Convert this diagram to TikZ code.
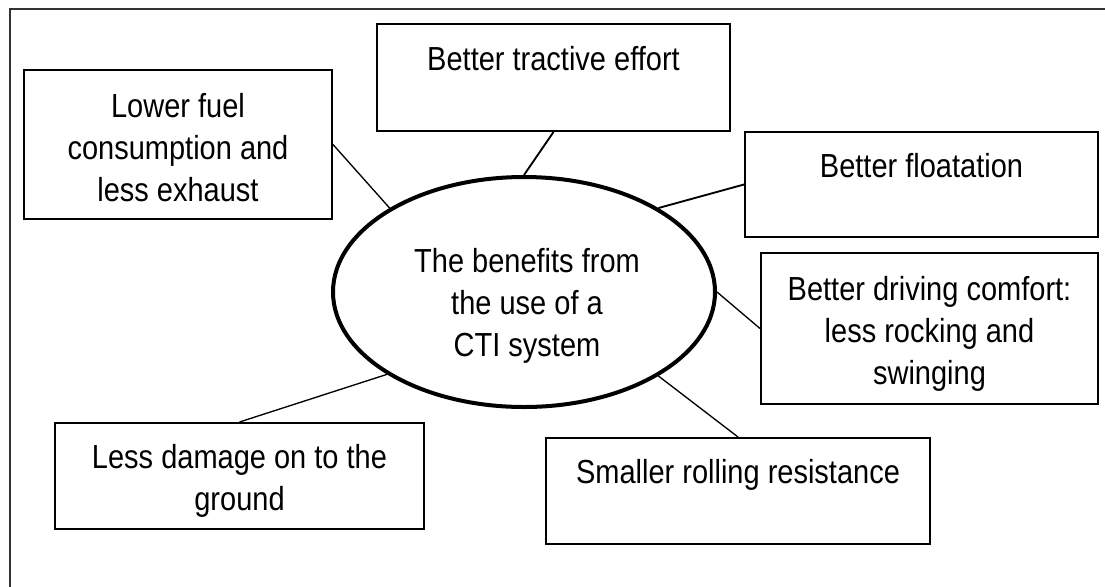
\documentclass[tikz,border=0pt]{standalone}
\usepackage{fontspec}
\setmainfont[FakeStretch=0.87]{Liberation Sans}
\usetikzlibrary{shapes.geometric}
\begin{document}
\begin{tikzpicture}[x=0.75pt,y=-0.75pt,
  box/.style={draw, rectangle, line width=1.5pt, inner sep=0pt},
  hub/.style={draw, ellipse, line width=3pt, inner sep=0pt,
              minimum width=286.5pt, minimum height=172.5pt},
  caption/.style={anchor=north, inner sep=0pt, align=center,
                  font=\fontsize{25}{31.5}\selectfont},
  link/.style={line width=1pt},
  heavy link/.style={line width=1.4pt}]
\useasboundingbox (0,0) rectangle (1105,586);

% frame
\draw[line width=1.5pt, black!80] (10,600) -- (10,9) -- (1120,9);

% central ellipse
\node[hub] (cti) at (524,292) {};
\node[caption] (ctitext) at (527,242.6) {\strut The benefits from\\the use of a\\CTI system\strut};

% benefit boxes
\node[box, minimum width=231pt, minimum height=111.75pt] (fuel) at (178,144.5) {};
\node[caption] (fueltext) at (178,87.6) {\strut Lower fuel\\consumption and\\less exhaust\strut};

\node[box, minimum width=264.75pt, minimum height=80.25pt] (tract) at (553.5,77.5) {};
\node[caption] (tracttext) at (553.5,40.6) {\strut Better tractive effort\strut};

\node[box, minimum width=264.75pt, minimum height=78.75pt] (float) at (921.5,184.5) {};
\node[caption] (floattext) at (921.5,147.6) {\strut Better floatation\strut};

\node[box, minimum width=252.75pt, minimum height=113.25pt] (comfort) at (929.5,328.5) {};
\node[caption] (comforttext) at (929.5,270.6) {\strut Better driving comfort:\\less rocking and\\swinging\strut};

\node[box, minimum width=288pt, minimum height=79.5pt] (roll) at (738,491) {};
\node[caption] (rolltext) at (738,453.6) {\strut Smaller rolling resistance\strut};

\node[box, minimum width=276.75pt, minimum height=79.5pt] (damage) at (239.5,476) {};
\node[caption] (damagetext) at (239.5,438.6) {\strut Less damage on to the\\ground\strut};

% connectors
\draw[link] (fuel.east) -- (cti.148.3);
\draw[heavy link] (tract.south) -- (cti.90.5);
\draw[heavy link] (float.west) -- (cti.32.1);
\draw[link] (comfort.west) -- (cti.-0.3);
\draw[link] (roll.north) -- (cti.-32.9);
\draw[link] (damage.north) -- (cti.211.8);
\end{tikzpicture}
\end{document}
